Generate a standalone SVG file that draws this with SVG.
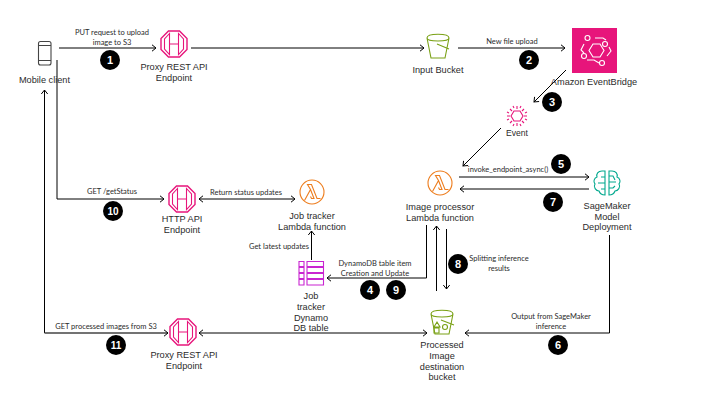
<svg xmlns="http://www.w3.org/2000/svg" width="720" height="405" viewBox="0 0 720 405">
<style>
.n{font:9.200px "Liberation Sans",Arial,sans-serif;fill:#2b2b2b;text-anchor:middle}
.l{font:7.500px Lato,"Open Sans",sans-serif;fill:#2b2b2b;text-anchor:middle}
.b{font:bold 11px "Liberation Sans",Arial,sans-serif;fill:#fff;text-anchor:middle}
.c{fill:none;stroke:#000;stroke-width:1}
.ic{fill:none;stroke-width:1.100}
</style>
<defs>
<marker id="a" viewBox="0 0 8 8" refX="7" refY="4" markerWidth="8" markerHeight="8" markerUnits="userSpaceOnUse" orient="auto-start-reverse"><path d="M3 .8L7 4L3 7.2" fill="none" stroke="#000" stroke-width="1"/></marker>
<g id="gw"><path d="M-5.500-13H5.500L13-5.500V5.500L5.500 13H-5.500L-13 5.500V-5.500Z" fill="none" stroke="#e7157b" stroke-width="1.400"/><path d="M-4.500-10.500L-9.500-5V5L-4.500 10.500ZM4.500-10.500L9.500-5V5L4.500 10.500ZM-4.500 0H4.500" class="ic" stroke="#e7157b"/></g>
<g id="lam"><circle r="12" class="ic" stroke="#ed7d1e"/><path d="M-7.500 8.500L-1.500-2.500L-4.500-7.500H-.5L5 6.500H8.500M-1.500-2.500L2 6.500H-.5L-1.500 4.500" class="ic" stroke="#ed7d1e"/></g>
</defs>
<rect width="720" height="405" fill="#fff"/>
<g id="connectors" class="c">
<path class="c" d="M59 48H156" marker-end="url(#a)"/>
<path class="c" d="M191 48H424" marker-end="url(#a)"/>
<path class="c" d="M458 48H565" marker-end="url(#a)"/>
<path class="c" d="M566 70L534 102" marker-end="url(#a)"/>
<path class="c" d="M501 128L463 166" marker-end="url(#a)"/>
<path class="c" d="M459 177H589" marker-end="url(#a)"/>
<path class="c" d="M589 189H460" marker-end="url(#a)"/>
<path class="c" d="M609.500 235V333H465" marker-end="url(#a)"/>
<path class="c" d="M199 333H427" marker-start="url(#a)" marker-end="url(#a)"/>
<path class="c" d="M436.500 291V226" marker-end="url(#a)"/>
<path class="c" d="M446.500 229V289" marker-end="url(#a)"/>
<path class="c" d="M426.500 225V278H327" marker-end="url(#a)"/>
<path class="c" d="M311.500 260V231" marker-end="url(#a)"/>
<path class="c" d="M199 199H295" marker-start="url(#a)" marker-end="url(#a)"/>
<path class="c" d="M57 60V199H164" marker-end="url(#a)"/>
<path class="c" d="M44.500 333V90" marker-end="url(#a)"/>
<path class="c" d="M44.500 333H168" marker-end="url(#a)" style="stroke:#444;stroke-width:1.300"/>
</g>
<g id="mobile"><rect x="38.500" y="41.500" width="12.500" height="23.500" rx="2" class="ic" stroke="#444"/><path d="M38.500 45.500H51M38.500 60.500H51" class="ic" stroke="#444"/><text class="n" x="44.500" y="83">Mobile client</text></g>
<g id="proxy1"><use href="#gw" x="174" y="44"/><text class="n" x="174" y="70">Proxy REST API</text><text class="n" x="174" y="81">Endpoint</text></g>
<g id="input"><path d="M427 38L431 58H445L449 38M427 38C427 33 449 33 449 38C449 42 427 42 427 38ZM437 44L449 49" class="ic" stroke="#7aa116"/><text class="n" x="438" y="73">Input Bucket</text></g>
<g id="eventbridge"><rect x="572" y="28" width="45" height="45" fill="#e7157b"/><g class="ic" stroke="#fff"><path d="M589 50.500L593 44H600L604 50.500L600 57H593Z"/><circle cx="587.500" cy="38" r="2.500"/><circle cx="605" cy="44" r="2.500"/><circle cx="584" cy="56" r="2.500"/><circle cx="602" cy="63" r="2.500"/><path d="M595 38H603L606 40M584 44L581 50L584 53M609 47L611 51L607 56M587 60H594L599 63"/></g><text class="n" x="594" y="85">Amazon EventBridge</text></g>
<g id="event"><path d="M511 116L514 111H520L523 116L520 121H514Z" class="ic" stroke="#e7157b"/><path d="M517 106V109M517 123V126M507 116H510M524 116H527M510 109L512 111M524 109L522 111M510 123L512 121M524 123L522 121M513 106L514 108M521 106L520 108M507 112L509 113M527 112L525 113M507 120L509 119M527 120L525 119M513 126L514 124M521 126L520 124" class="ic" stroke="#e7157b"/><text class="n" x="517" y="136" style="font-size:8.600px">Event</text></g>
<g id="image-lambda"><use href="#lam" x="440" y="183"/><text class="n" x="440" y="210">Image processor</text><text class="n" x="440" y="221">Lambda function</text></g>
<g id="sagemaker"><g class="ic" stroke="#01a88d"><path d="M605 171H602C598 171 596 174 597 177C594 178 593 182 595 184C593 187 596 191 599 191C600 194 603 195 605 195ZM609 171H612C616 171 618 174 617 177C620 178 621 182 619 184C621 187 618 191 615 191C614 194 611 195 609 195Z"/><path d="M605 177H601M605 183H598M605 189H601M609 176H613L615 180M609 182H616M609 188H613L615 186"/></g><text class="n" x="607" y="209">SageMaker</text><text class="n" x="607" y="220">Model</text><text class="n" x="607" y="230">Deployment</text></g>
<g id="processed"><path d="M431 314L435 334H449L453 314M431 314C431 309 453 309 453 314C453 318 431 318 431 314Z" class="ic" stroke="#7aa116"/><path d="M441 320L454 325M437 322L440 327H434ZM434 328H439V333H434Z" class="ic" stroke="#7aa116"/><circle cx="445" cy="327" r="2.500" class="ic" stroke="#7aa116"/><text class="n" x="442" y="348">Processed</text><text class="n" x="442" y="359">Image</text><text class="n" x="442" y="369.500">destination</text><text class="n" x="442" y="380">bucket</text></g>
<g id="job-lambda"><use href="#lam" x="312" y="192"/><text class="n" x="312" y="219">Job tracker</text><text class="n" x="312" y="230">Lambda function</text></g>
<g id="table"><path d="M299 261.500H304V266.500H299ZM299 267.500H304V272.500H299ZM299 273.500H304V278.500H299ZM299 279.500H304V285H299ZM307 261.500H323.500V266.500H307ZM307 267.500H323.500V272.500H307ZM307 273.500H323.500V278.500H307ZM307 279.500H323.500V285H307Z" class="ic" stroke="#c925d1"/><text class="n" x="311" y="299">Job</text><text class="n" x="311" y="310">tracker</text><text class="n" x="311" y="320.500">Dynamo</text><text class="n" x="311" y="331">DB table</text></g>
<g id="http"><use href="#gw" x="182" y="199"/><text class="n" x="182" y="222">HTTP API</text><text class="n" x="182" y="233">Endpoint</text></g>
<g id="proxy2"><use href="#gw" x="183" y="332"/><text class="n" x="184" y="358">Proxy REST API</text><text class="n" x="184" y="369">Endpoint</text></g>
<g id="labels">
<text class="l" x="112" y="35">PUT request to upload</text><text class="l" x="112" y="45">image to S3</text>
<text class="l" x="512" y="44">New file upload</text>
<text class="l" x="508" y="172">invoke_endpoint_async()</text>
<text class="l" x="499" y="261">Splitting inference</text><text class="l" x="499" y="271">results</text>
<text class="l" x="551" y="319">Output from SageMaker</text><text class="l" x="551" y="329">inference</text>
<text class="l" x="375" y="266">DynamoDB table item</text><text class="l" x="375" y="276">Creation and Update</text>
<text class="l" x="279" y="249">Get latest updates</text>
<text class="l" x="246" y="195">Return status updates</text>
<text class="l" x="112" y="194">GET /getStatus</text>
<text class="l" x="106" y="329">GET processed images from S3</text>
</g>
<g id="badges">
<circle cx="110" cy="60" r="10"/><text class="b" x="110" y="64">1</text>
<circle cx="529" cy="60" r="10"/><text class="b" x="529" y="64">2</text>
<circle cx="552" cy="102" r="10"/><text class="b" x="552" y="106">3</text>
<circle cx="370" cy="290" r="10"/><text class="b" x="370" y="294">4</text>
<circle cx="396" cy="290" r="10"/><text class="b" x="396" y="294">9</text>
<circle cx="561" cy="164" r="10"/><text class="b" x="561" y="168">5</text>
<circle cx="553" cy="202" r="10"/><text class="b" x="553" y="206">7</text>
<circle cx="458" cy="264" r="10"/><text class="b" x="458" y="268">8</text>
<circle cx="558" cy="345" r="10"/><text class="b" x="558" y="349">6</text>
<circle cx="113" cy="211" r="10"/><text class="b" x="113" y="215" style="font-size:10px">10</text>
<circle cx="116" cy="345" r="10"/><text class="b" x="116" y="349" style="font-size:10px">11</text>
</g>
</svg>
